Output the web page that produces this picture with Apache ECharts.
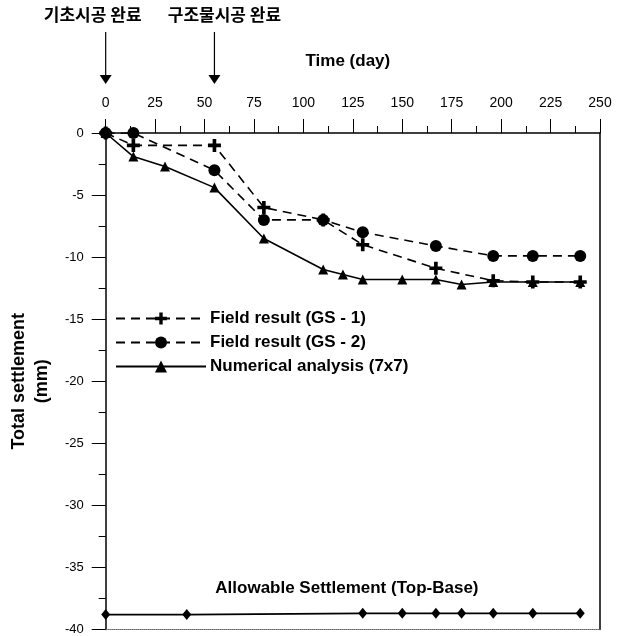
<!DOCTYPE html>
<html>
<head>
<meta charset="utf-8">
<script src="https://cdn.jsdelivr.net/npm/echarts@6/dist/echarts.min.js"></script>
<style>
  html, body { margin: 0; padding: 0; background: #fff; }
  #main { width: 619px; height: 636px; }
</style>
</head>
<body>
<div id="main"></div>
<script>
// field measurements (GS-1 / GS-2)
const fieldDays = [0, 14, 55, 80, 110, 130, 167, 196, 216, 240];
const gs1 = [0, -1, -1, -6, -7, -9, -10.9, -11.9, -12, -12];
const gs2 = [0, 0, -3, -7, -7, -8, -9.1, -9.9, -9.9, -9.9];
// numerical analysis (7x7)
const numDays = [0, 14, 30, 55, 80, 110, 120, 130, 150, 167, 180, 196, 216, 240];
const numVals = [0, -1.9, -2.7, -4.4, -8.5, -11, -11.4, -11.8, -11.8, -11.8, -12.2, -12, -12, -12];
// allowable settlement line
const allowDays = [0, 41, 130, 150, 167, 180, 196, 216, 240];
const allowVals = [-38.8, -38.8, -38.7, -38.7, -38.7, -38.7, -38.7, -38.7, -38.7];
// construction events (arrows on top)
const eventDays = [0, 55];
const eventLabels = ['기초시공 완료', '구조물시공 완료'];
const eventShift = [-13, 10];

const seriesNames = ['Field result (GS - 1)', 'Field result (GS - 2)', 'Numerical analysis (7x7)'];

const FONT = 'Liberation Sans, Arial, sans-serif';
const plusPath = 'path://M3.6,0H6.4V3.6H10V6.4H6.4V10H3.6V6.4H0V3.6H3.6Z';

function pairs(xs, ys) {
  return xs.map((x, i) => [x, ys[i]]);
}

const chart = echarts.init(document.getElementById('main'));

const option = {
  animation: false,
  backgroundColor: '#fff',
  grid: { left: 104, right: 19, top: 133, bottom: 4 },
  legend: {
    data: seriesNames,
    orient: 'vertical',
    left: 110,
    top: 305,
    itemWidth: 90,
    itemHeight: 15,
    itemGap: 7,
    textStyle: { fontFamily: FONT, fontWeight: 'bold', fontSize: 17, color: '#000', padding: [0, 0, 0, -1] }
  },
  xAxis: [{
    type: 'value',
    position: 'top',
    min: 0, max: 250, interval: 25,
    name: 'Time (day)',
    nameLocation: 'middle',
    nameGap: 63,
    nameTextStyle: { fontFamily: FONT, fontWeight: 'bold', fontSize: 17, color: '#000', padding: [0, 10, 0, 0] },
    axisLine: { show: true, onZero: false, lineStyle: { color: '#000', width: 1.5 } },
    axisTick: { show: true, length: 14, lineStyle: { color: '#000', width: 1 } },
    minorTick: { show: true, splitNumber: 2, length: 7, lineStyle: { color: '#000', width: 1 } },
    axisLabel: { margin: 23, fontFamily: '"Liberation Sans Narrow", "Liberation Sans", Arial, sans-serif', fontSize: 14, color: '#000' },
    splitLine: { show: false }
  }, {
    type: 'value',
    position: 'bottom',
    min: 0, max: 250,
    axisLine: { show: true, onZero: false, lineStyle: { color: '#666', width: 1, type: 'dotted' } },
    axisTick: { show: false },
    axisLabel: { show: false },
    splitLine: { show: false }
  }],
  yAxis: [{
    type: 'value',
    min: -40, max: 0, interval: 5,
    name: 'Total settlement\n(mm)',
    nameLocation: 'middle',
    nameGap: 50,
    nameTextStyle: { fontFamily: FONT, fontWeight: 'bold', fontSize: 18, color: '#000', lineHeight: 23 },
    axisLine: { show: true, onZero: false, lineStyle: { color: '#000', width: 1.5 } },
    axisTick: { show: true, length: 14, lineStyle: { color: '#000', width: 1 } },
    minorTick: { show: true, splitNumber: 2, length: 7, lineStyle: { color: '#000', width: 1 } },
    axisLabel: { margin: 22, fontFamily: FONT, fontSize: 13, color: '#000' },
    splitLine: { show: false }
  }, {
    type: 'value',
    position: 'right',
    min: -40, max: 0,
    axisLine: { show: true, onZero: false, lineStyle: { color: '#000', width: 1.5 } },
    axisTick: { show: false },
    axisLabel: { show: false },
    splitLine: { show: false }
  }],
  series: [{
    name: seriesNames[0],
    type: 'line',
    data: pairs(fieldDays, gs1),
    symbol: plusPath,
    symbolSize: 13,
    itemStyle: { color: '#000' },
    lineStyle: { color: '#000', width: 1.6, type: [9, 6] },
    z: 3
  }, {
    name: seriesNames[1],
    type: 'line',
    data: pairs(fieldDays, gs2),
    symbol: 'circle',
    symbolSize: 12,
    itemStyle: { color: '#000' },
    lineStyle: { color: '#000', width: 1.6, type: [9, 6] },
    z: 4
  }, {
    name: seriesNames[2],
    type: 'line',
    data: pairs(numDays, numVals),
    symbol: 'triangle',
    symbolSize: 10,
    itemStyle: { color: '#000' },
    lineStyle: { color: '#000', width: 1.6 },
    z: 2
  }, {
    name: 'Allowable',
    type: 'line',
    data: pairs(allowDays, allowVals),
    symbol: 'diamond',
    symbolSize: [9, 11],
    itemStyle: { color: '#000' },
    lineStyle: { color: '#000', width: 1.6 },
    z: 2
  }]
};

chart.setOption(option);

// annotations positioned through the axes
const graphics = [];
eventDays.forEach((d, i) => {
  const x = chart.convertToPixel({ xAxisIndex: 0, yAxisIndex: 0 }, [d, 0])[0];
  graphics.push({
    type: 'line', shape: { x1: x, y1: 32, x2: x, y2: 76 },
    style: { stroke: '#000', lineWidth: 1.2 }
  });
  graphics.push({
    type: 'polygon', shape: { points: [[x - 6, 75], [x + 6, 75], [x, 84]] },
    style: { fill: '#000' }
  });
  graphics.push({
    type: 'text', x: x + eventShift[i], y: 15,
    style: {
      text: eventLabels[i], fill: '#000', align: 'center', verticalAlign: 'middle',
      font: 'bold 17px "Noto Sans CJK KR", sans-serif'
    }
  });
});
const tp = chart.convertToPixel({ xAxisIndex: 0, yAxisIndex: 0 }, [122, -36.7]);
graphics.push({
  type: 'text', x: tp[0], y: tp[1],
  style: {
    text: 'Allowable Settlement (Top-Base)', fill: '#000', align: 'center', verticalAlign: 'middle',
    font: 'bold 17px "Liberation Sans", Arial, sans-serif'
  }
});
chart.setOption({ graphic: graphics });
</script>
</body>
</html>
